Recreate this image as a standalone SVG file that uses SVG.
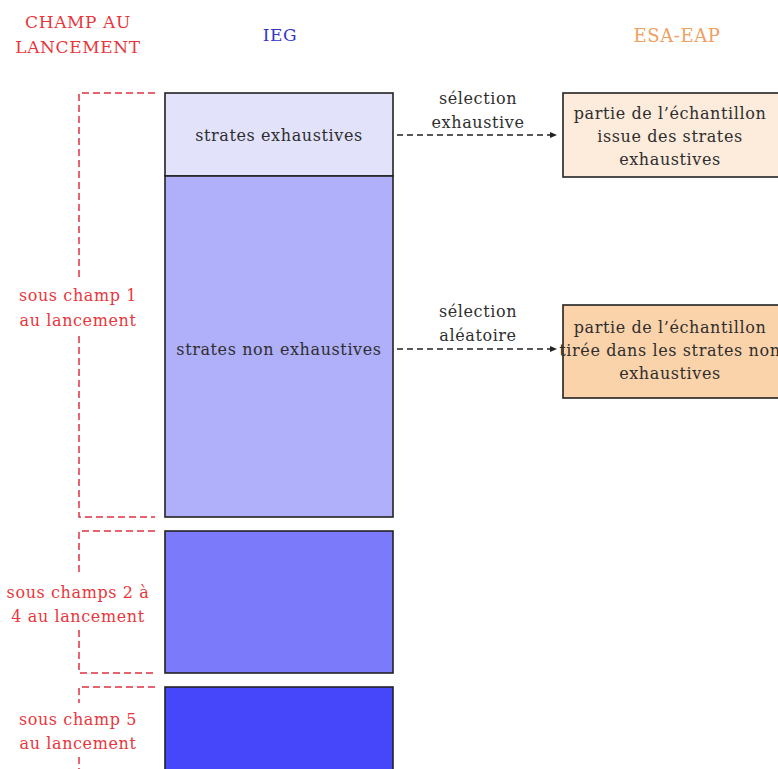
<svg xmlns="http://www.w3.org/2000/svg" width="778" height="769" viewBox="0 0 778 769">
<style>
text{font-family:"DejaVu Serif","Liberation Serif",serif;font-size:16px;letter-spacing:0.6px;text-anchor:middle;fill:#2e2e2e}
.red{fill:#e8373c}
.hdr{font-size:17px}
.box{stroke:#222;stroke-width:1.6}
.br{fill:none;stroke:#e03040;stroke-width:1.5;stroke-dasharray:7 4}
.conn{fill:none;stroke:#222;stroke-width:1.4;stroke-dasharray:6 4}
</style>
<defs>
<marker id="ah" markerWidth="8" markerHeight="8" refX="7" refY="4" orient="auto" markerUnits="userSpaceOnUse">
<path d="M0,1 L7,4 L0,7 Z" fill="#222"/>
</marker>
</defs>
<rect width="778" height="769" fill="#fff"/>
<g id="headers">
<text class="red hdr" x="78" y="28">CHAMP AU</text>
<text class="red hdr" x="78" y="53">LANCEMENT</text>
<text class="hdr" x="280" y="41" style="fill:#3535c8">IEG</text>
<text class="hdr" x="677" y="42" style="fill:#f0a060;font-size:18px">ESA-EAP</text>
</g>
<g id="brackets">
<g id="b1">
<path class="br" d="M155,93 H79 V280"/>
<path class="br" d="M79,336 V517 H155"/>
<text class="red" x="78" y="301">sous champ 1</text>
<text class="red" x="78" y="326">au lancement</text>
</g>
<g id="b2">
<path class="br" d="M155,531 H79 V572"/>
<path class="br" d="M79,630 V673 H155"/>
<text class="red" x="78" y="598">sous champs 2 à</text>
<text class="red" x="78" y="622">4 au lancement</text>
</g>
<g id="b3">
<path class="br" d="M155,687 H79 V703"/>
<path class="br" d="M79,757 V769"/>
<text class="red" x="78" y="725">sous champ 5</text>
<text class="red" x="78" y="749">au lancement</text>
</g>
</g>
<g id="ieg">
<g id="n1"><rect class="box" x="165" y="93" width="228" height="83" fill="#e2e2fb"/><text x="279" y="141">strates exhaustives</text></g>
<g id="n2"><rect class="box" x="165" y="176" width="228" height="341" fill="#afaffa"/><text x="279" y="355">strates non exhaustives</text></g>
<g id="n3"><rect class="box" x="165" y="531" width="228" height="142" fill="#7a7afb"/></g>
<g id="n4"><rect class="box" x="165" y="687" width="228" height="100" fill="#4646fb"/></g>
</g>
<g id="esa">
<g id="e1"><rect class="box" x="563" y="93" width="216" height="84" fill="#fdebdc"/>
<text x="670" y="119">partie de l’échantillon</text>
<text x="670" y="142">issue des strates</text>
<text x="670" y="165">exhaustives</text></g>
<g id="e2"><rect class="box" x="563" y="305" width="230" height="93" fill="#fbd3aa"/>
<text x="670" y="333">partie de l’échantillon</text>
<text x="670" y="356">tirée dans les strates non</text>
<text x="670" y="379">exhaustives</text></g>
</g>
<g id="connectors">
<path class="conn" d="M397,135 H557" marker-end="url(#ah)"/>
<text x="478" y="104">sélection</text>
<text x="478" y="128">exhaustive</text>
<path class="conn" d="M397,349 H557" marker-end="url(#ah)"/>
<text x="478" y="317">sélection</text>
<text x="478" y="341">aléatoire</text>
</g>
</svg>
